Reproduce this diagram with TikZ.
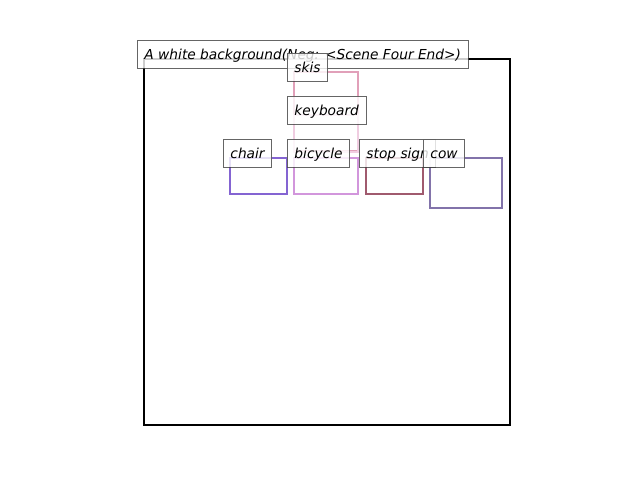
\documentclass[tikz,border=0pt]{standalone}
\usepackage{fontspec}
\setmainfont{DejaVu Sans}
\definecolor{cchair}{RGB}{132,100,210}
\definecolor{cbike}{RGB}{210,150,220}
\definecolor{cstop}{RGB}{160,90,110}
\definecolor{ccow}{RGB}{130,115,170}
\definecolor{cskis}{RGB}{225,160,185}
\definecolor{ckey}{RGB}{240,205,225}
\tikzset{
  objbox/.style={line width=2pt},
  lbl/.style={anchor=base west, draw=black!75, draw opacity=0.8, fill=white, fill opacity=0.8, text opacity=1,
    line width=0.9pt, inner xsep=7pt, inner ysep=7pt, text height=12pt, text depth=2pt,
    font=\fontsize{13.75}{16}\selectfont\itshape, xshift=-7pt}
}
\begin{document}
\begin{tikzpicture}[x=1pt,y=-1pt]
\useasboundingbox (0,0) rectangle (640,480);
\draw[line width=2pt, black] (144,59) rectangle (510,425);
\draw[objbox, cskis] (294,72) rectangle (358,151);
\draw[objbox, ckey] (294,115) rectangle (358,152);
\draw[objbox, cchair] (230,158) rectangle (287,194);
\draw[objbox, cbike] (294,158) rectangle (358,194);
\draw[objbox, cstop] (366,158) rectangle (423,194);
\draw[objbox, ccow] (430,158) rectangle (502,208);
\node[lbl] (ltitle) at (144,59) {A white background(Neg: <Scene Four End>)};
\node[lbl] (lskis) at (294,72) {skis};
\node[lbl] (lkey) at (294,115) {keyboard};
\node[lbl] (lchair) at (230,158) {chair};
\node[lbl] (lbike) at (294,158) {bicycle};
\node[lbl] (lstop) at (366,158) {stop sign};
\node[lbl] (lcow) at (430,158) {cow};
\end{tikzpicture}
\end{document}
